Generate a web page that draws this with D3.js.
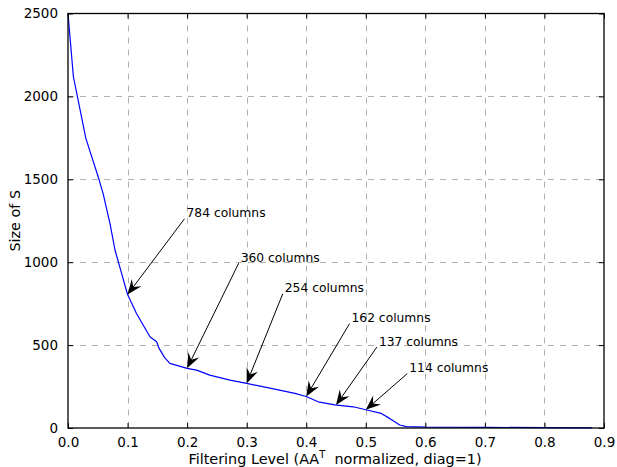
<!DOCTYPE html>
<html>
<head>
<meta charset="utf-8">
<script src="https://cdn.jsdelivr.net/npm/d3@7"></script>
<style>
  html, body { margin: 0; padding: 0; background: #fff; }
  svg { display: block; font-family: "DejaVu Sans", sans-serif; }
</style>
</head>
<body>
<svg id="chart" width="617" height="467"></svg>
<script>
// ---- data ----
const filterLevel = [0, 0.009, 0.030, 0.052, 0.059, 0.0705, 0.079, 0.090, 0.100, 0.115, 0.1376, 0.1488, 0.153, 0.162, 0.171, 0.200, 0.216, 0.238, 0.272, 0.300, 0.333, 0.367, 0.381, 0.400, 0.420, 0.448, 0.479, 0.500, 0.526, 0.540, 0.557, 0.568, 0.600, 0.700, 0.800, 0.880];
const sizeOfS     = [2500, 2120, 1747, 1500, 1414, 1233, 1072, 933, 805, 691, 550, 520, 480, 426, 390, 360, 349, 319, 289, 269, 245, 219, 209, 190, 158, 139, 128, 110, 88, 58, 18, 8, 5, 4, 2, 1];

const annotLabels = ["784 columns", "360 columns", "254 columns", "162 columns", "137 columns", "114 columns"];
const annotX      = [0.10, 0.20, 0.30, 0.40, 0.45, 0.50];
const annotY      = [805, 360, 269, 190, 138, 110];
const annotTextX  = [0.199, 0.290, 0.364, 0.476, 0.522, 0.573];
const annotTextY  = [1271, 1003, 819, 638, 497, 337];

const xTicks = [0, 0.1, 0.2, 0.3, 0.4, 0.5, 0.6, 0.7, 0.8, 0.9];
const yTicks = [0, 500, 1000, 1500, 2000, 2500];

// ---- layout ----
const svg = d3.select("#chart");
const L = 68, R = 604, T = 13.5, B = 428;
const x = d3.scaleLinear().domain([0, 0.9]).range([L, R]);
const y = d3.scaleLinear().domain([0, 2500]).range([B, T]);

// grid
const g = svg.append("g");
g.selectAll("line.vg").data(xTicks.slice(1, -1)).enter().append("line")
  .attr("x1", d => Math.round(x(d)) + 0.5).attr("x2", d => Math.round(x(d)) + 0.5)
  .attr("y1", T).attr("y2", B)
  .attr("stroke", "#b0b0b0").attr("stroke-width", 1).attr("stroke-dasharray", "6,6");
g.selectAll("line.hg").data(yTicks.slice(1, -1)).enter().append("line")
  .attr("y1", d => Math.round(y(d)) + 0.5).attr("y2", d => Math.round(y(d)) + 0.5)
  .attr("x1", L).attr("x2", R)
  .attr("stroke", "#b0b0b0").attr("stroke-width", 1).attr("stroke-dasharray", "6,6");

// curve
const line = d3.line().x((d, i) => x(filterLevel[i])).y(d => y(d));
svg.append("path").datum(sizeOfS)
  .attr("d", line).attr("fill", "none").attr("stroke", "#0000ff").attr("stroke-width", 1.2)
  .attr("stroke-linejoin", "round");

// axes (ticks inside)
const tickLen = 5;
const fs = 13.5;
const xAxisB = d3.axisBottom(x).tickValues(xTicks).tickFormat(d3.format(".1f")).tickSizeInner(-tickLen).tickSizeOuter(0).tickPadding(9);
const xAxisT = d3.axisTop(x).tickValues(xTicks).tickFormat("").tickSizeInner(-tickLen).tickSizeOuter(0);
const yAxisL = d3.axisLeft(y).tickValues(yTicks).tickFormat(d3.format("d")).tickSizeInner(-tickLen).tickSizeOuter(0).tickPadding(10);
const yAxisR = d3.axisRight(y).tickValues(yTicks).tickFormat("").tickSizeInner(-tickLen).tickSizeOuter(0);

function style(sel) {
  sel.select(".domain").remove();
  sel.selectAll("line").attr("stroke", "#000");
  sel.selectAll("text").attr("fill", "#000").style("font-size", fs + "px").style("font-family", "DejaVu Sans, sans-serif");
}
svg.append("g").attr("transform", `translate(0,${B})`).call(xAxisB).call(style);
svg.append("g").attr("transform", `translate(0,${T})`).call(xAxisT).call(style);
svg.append("g").attr("transform", `translate(${L},0)`).call(yAxisL).call(style);
svg.append("g").attr("transform", `translate(${R},0)`).call(yAxisR).call(style);

// frame
svg.append("rect").attr("x", L).attr("y", T).attr("width", R - L).attr("height", B - T)
  .attr("fill", "none").attr("stroke", "#000").attr("stroke-width", 1.3);

// annotations
annotLabels.forEach((lab, i) => {
  const tx = x(annotTextX[i]), ty = y(annotTextY[i]);
  const sx = tx - 2, sy = ty + 1.5;
  const ex = x(annotX[i]), ey = y(annotY[i]);
  const ang = Math.atan2(ey - sy, ex - sx);
  const hl = 15, hw = 6, notch = 9.5;
  const cx = Math.cos(ang), cy = Math.sin(ang);
  const bx = ex - cx * hl, by = ey - cy * hl;
  const nx = ex - cx * notch, ny = ey - cy * notch;
  svg.append("line").attr("x1", sx).attr("y1", sy).attr("x2", nx).attr("y2", ny)
    .attr("stroke", "#000").attr("stroke-width", 1);
  const p = [[ex, ey], [bx - cy * hw, by + cx * hw], [nx, ny], [bx + cy * hw, by - cx * hw]];
  svg.append("path").attr("d", "M" + p.map(q => q.join(",")).join("L") + "Z").attr("fill", "#000");
  svg.append("text").attr("x", tx).attr("y", ty).text(lab)
    .style("font-size", "12.3px").attr("fill", "#000");
});

// axis labels
const xl = svg.append("text").attr("x", (L + R) / 2 - 1).attr("y", 464).attr("text-anchor", "middle")
  .style("font-size", "14.4px").attr("fill", "#000");
xl.append("tspan").text("Filtering Level (AA");
xl.append("tspan").text("T").attr("dy", -6.5).style("font-size", "10px");
xl.append("tspan").text("\u00a0\u00a0normalized, diag=1)").attr("dy", 6.5);

svg.append("text").attr("transform", `translate(19.5,${(T + B) / 2}) rotate(-90)`).attr("text-anchor", "middle")
  .style("font-size", "14.4px").attr("fill", "#000").text("Size of S");
</script>
</body>
</html>
